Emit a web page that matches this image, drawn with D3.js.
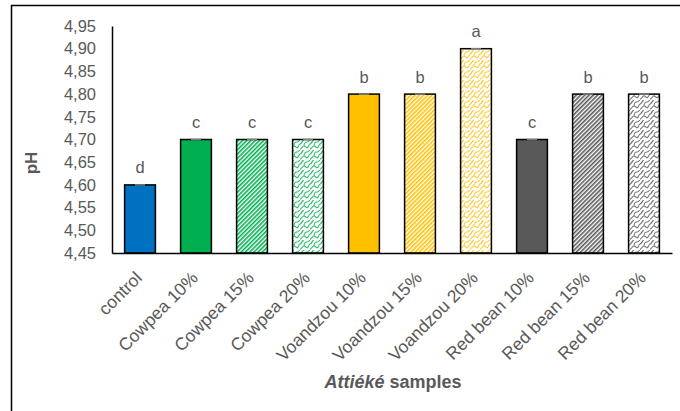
<!DOCTYPE html>
<html><head><meta charset="utf-8">
<script src="https://cdn.jsdelivr.net/npm/d3@7"></script>
<style>body{margin:0;background:#fff}svg{display:block}text{font-family:Arial,"Liberation Sans",sans-serif}</style>
</head><body><svg id="c" width="680" height="411"></svg>
<script>
const categories = ["control","Cowpea 10%","Cowpea 15%","Cowpea 20%","Voandzou 10%","Voandzou 15%","Voandzou 20%","Red bean 10%","Red bean 15%","Red bean 20%"];
const values = [4.60, 4.70, 4.70, 4.70, 4.80, 4.80, 4.90, 4.70, 4.80, 4.80];
const letters = ["d","c","c","c","b","b","a","c","b","b"];
const yTicks = [4.45,4.50,4.55,4.60,4.65,4.70,4.75,4.80,4.85,4.90,4.95];
const groupColor = ["#0070C0","#00B050","#00B050","#00B050","#FFC000","#FFC000","#FFC000","#595959","#595959","#595959"];
const fillType = ["solid","solid","stripe","shingle","solid","stripe","shingle","solid","stripe","shingle"];

const svg = d3.select("#c");
const textCol = "#595959";
const L = 112, R = 672, T = 26, B = 253;

const x = d3.scaleBand().domain(categories).range([L, R]).paddingInner(0.45).paddingOuter(0.225);
const y = d3.scaleLinear().domain([4.45, 4.95]).range([B, T]);

// patterns
const defs = svg.append("defs");
const uniq = [...new Set(groupColor)];
uniq.forEach((c, i) => {
  const s = defs.append("pattern").attr("id", "stripe" + i).attr("patternUnits", "userSpaceOnUse")
    .attr("width", 3).attr("height", 3).attr("patternTransform", "rotate(45)");
  s.append("rect").attr("width", 3).attr("height", 3).attr("fill", "#fff");
  s.append("rect").attr("width", 1.6).attr("height", 3).attr("fill", c);
  const h = defs.append("pattern").attr("id", "shingle" + i).attr("patternUnits", "userSpaceOnUse")
    .attr("width", 10).attr("height", 10);
  h.append("rect").attr("width", 10).attr("height", 10).attr("fill", "#fff");
  h.append("path").attr("d", "M0,9 C2,9 2,6 4,6 C6,6 6,9 8,7 C9,6 9,4 10,4 M4,6 C4,4 5,2 7,2 C9,2 9,0 10,0 M0,4 C1,4 1,3 2,2 C3,1 3,0 4,0 M-1,9 L0,9 M0,10 L0,9")
    .attr("fill", "none").attr("stroke", c).attr("stroke-width", 1.1).attr("stroke-opacity", 0.85);
});
function fillFor(i) {
  const ci = uniq.indexOf(groupColor[i]);
  if (fillType[i] === "stripe") return `url(#stripe${ci})`;
  if (fillType[i] === "shingle") return `url(#shingle${ci})`;
  return groupColor[i];
}

// frame
svg.append("line").attr("x1", 11).attr("x2", 680).attr("y1", 5.5).attr("y2", 5.5).attr("stroke", "#000").attr("stroke-width", 1.5);
svg.append("line").attr("x1", 11.5).attr("x2", 11.5).attr("y1", 5).attr("y2", 411).attr("stroke", "#000").attr("stroke-width", 1.5);

// y axis
const yAxis = d3.axisLeft(y).tickValues(yTicks).tickSize(0).tickPadding(16)
  .tickFormat(d => d3.format(".2f")(d).replace(".", ","));
const gy = svg.append("g").attr("transform", `translate(${L},0)`).call(yAxis);
gy.select(".domain").attr("stroke", "#000").attr("stroke-width", 1.5);
gy.selectAll("text").attr("fill", textCol).style("font-size", "16.5px");

// bars
svg.append("g").selectAll("rect").data(categories).join("rect")
  .attr("x", d => x(d)).attr("width", x.bandwidth())
  .attr("y", (d, i) => y(values[i])).attr("height", (d, i) => B - y(values[i]))
  .attr("fill", (d, i) => fillFor(i)).attr("stroke", "#000").attr("stroke-width", 1.5);

// error caps
svg.append("g").selectAll("line").data(categories).join("line")
  .attr("x1", d => x(d) + x.bandwidth() / 2 - 5).attr("x2", d => x(d) + x.bandwidth() / 2 + 5)
  .attr("y1", (d, i) => y(values[i])).attr("y2", (d, i) => y(values[i]))
  .attr("stroke", "#7f7f7f").attr("stroke-width", 1.5);

// x axis
const xAxis = d3.axisBottom(x).tickSize(0).tickPadding(0);
const gx = svg.append("g").attr("transform", `translate(0,${B})`).call(xAxis);
gx.select(".domain").attr("stroke", "#000").attr("stroke-width", 1.5);
gx.selectAll("text").attr("fill", textCol).style("font-size", "17.5px")
  .attr("text-anchor", "end").attr("dy", null)
  .attr("transform", "translate(3,26) rotate(-45)");

// letters
svg.append("g").selectAll("text").data(categories).join("text")
  .attr("x", d => x(d) + x.bandwidth() / 2).attr("y", (d, i) => y(values[i]) - 11.5)
  .attr("text-anchor", "middle").attr("fill", textCol).style("font-size", "16.5px")
  .text((d, i) => letters[i]);

// axis titles
svg.append("text").attr("transform", "translate(37,163) rotate(-90)").attr("text-anchor", "middle")
  .attr("fill", textCol).style("font-size", "17px").style("font-weight", "bold").text("pH");
const xt = svg.append("text").attr("x", 393).attr("y", 388).attr("text-anchor", "middle")
  .attr("fill", textCol).style("font-size", "18px").style("font-weight", "bold");
xt.append("tspan").style("font-style", "italic").text("Attiéké");
xt.append("tspan").text(" samples");
</script></body></html>
